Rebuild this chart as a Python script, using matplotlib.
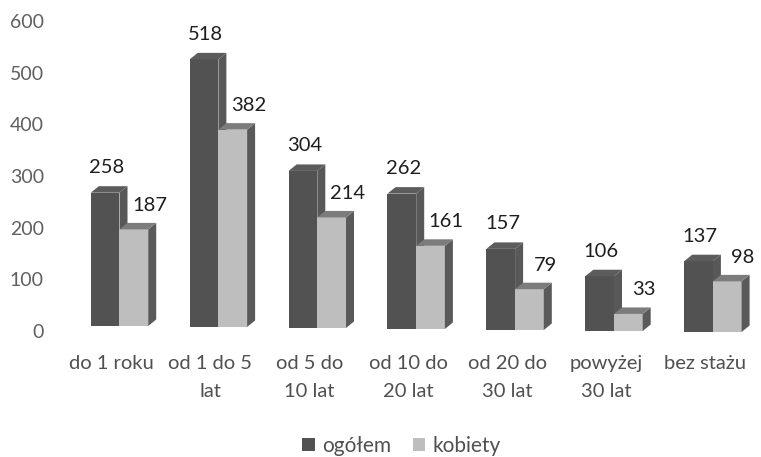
import matplotlib
matplotlib.use("Agg")
import matplotlib.pyplot as plt
from matplotlib.patches import Polygon, Patch
from matplotlib.transforms import ScaledTranslation

categories = ["do 1 roku", "od 1 do 5\nlat", "od 5 do\n10 lat", "od 10 do\n20 lat",
              "od 20 do\n30 lat", "powyżej\n30 lat", "bez stażu"]
ogolem = [258, 518, 304, 262, 157, 106, 137]
kobiety = [187, 382, 214, 161, 79, 33, 98]
yticks = [0, 100, 200, 300, 400, 500, 600]
series_names = ["ogółem", "kobiety"]

plt.rcParams["font.family"] = ["Lato", "DejaVu Sans"]
W, H = 761, 457
fig = plt.figure(figsize=(W / 100, H / 100), dpi=100)
L, R, y0, y600 = 62, 755, 328, 18
ax = fig.add_axes([L / W, 1 - y0 / H, (R - L) / W, (y0 - y600) / H])
cx, step = 119.5, 98.9
ax.set_xlim((L - cx) / step, (R - cx) / step)
ax.set_ylim(0, 600)
px_x = 1 / step
px_y = 600 / (y0 - y600)
bw = 28.7 * px_x
dx, dy = 8 * px_x, 6.5 * px_y
TXT = "#505050"
styles = [("#525252", "#585858", "#5c5c5c"), ("#bebebe", "#5a5a5a", "#7c7c7c")]

for s, vals in enumerate([ogolem, kobiety]):
    front, side, top = styles[s]
    for i, v in enumerate(vals):
        x = i + (s - 1) * bw
        xr = x + bw
        b = -(i - 2) * px_y          # the scanned baseline slopes down by a pixel per group
        t = b + v
        ax.bar(x, v, bottom=b, width=bw, align="edge", color=front, linewidth=0,
               zorder=2 + s, clip_on=False)
        ax.add_patch(Polygon([(xr, b), (xr + dx, b + dy), (xr + dx, t + dy), (xr, t)],
                             closed=True, fc=side, lw=0, zorder=2 + s, clip_on=False))
        ax.add_patch(Polygon([(x, t), (x + dx, t + dy), (xr + dx, t + dy), (xr, t)],
                             closed=True, fc=top, lw=0, zorder=2 + s, clip_on=False))
        ox = 16 if s == 0 else 30
        oy = 25 if s == 0 else 24
        ax.text(x + ox * px_x, t + oy * px_y, str(v), ha="center", va="center",
                fontsize=14.5, color="#1e1e1e", zorder=5)

for sp in ax.spines.values():
    sp.set_visible(False)
ax.set_yticks(yticks)
ax.set_xticks(range(len(categories)))
ax.set_xticklabels(categories, linespacing=1.78)
ax.tick_params(axis="x", length=0, labelsize=14.5, labelcolor=TXT, pad=19.5)
ax.tick_params(axis="y", length=0, labelsize=14, labelcolor="#606060", pad=13)
yshift = ScaledTranslation(0, -3 / 100, fig.dpi_scale_trans)
for t in ax.get_yticklabels():
    t.set_transform(t.get_transform() + yshift)
xshift = ScaledTranslation(-8 / 100, 0, fig.dpi_scale_trans)
for t in ax.get_xticklabels():
    t.set_transform(t.get_transform() + xshift)

handles = [Patch(fc=styles[0][0], lw=0), Patch(fc=styles[1][0], lw=0)]
leg = fig.legend(handles, series_names, loc="center", bbox_to_anchor=(401.5 / W, 1 - 446 / H),
                 ncol=2, frameon=False, fontsize=15, labelcolor=TXT, handlelength=0.58,
                 handleheight=0.58, handletextpad=0.35, columnspacing=1.05)
fig.savefig("out.png", dpi=100)
